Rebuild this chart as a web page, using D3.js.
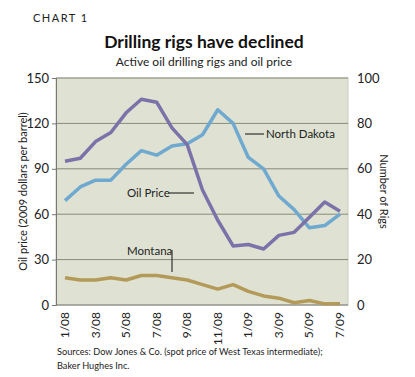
<!DOCTYPE html>
<html>
<head>
<meta charset="utf-8">
<script src="https://cdn.jsdelivr.net/npm/d3@7"></script>
<style>
  body { margin: 0; background: #fff; }
  svg { font-family: Lato, "Open Sans", sans-serif; }
</style>
</head>
<body>
<svg id="chart" width="415" height="377"></svg>
<script>
// months 1/08 .. 7/09
const months = ['1/08', '2/08', '3/08', '4/08', '5/08', '6/08', '7/08', '8/08', '9/08', '10/08',
  '11/08', '12/08', '1/09', '2/09', '3/09', '4/09', '5/09', '6/09', '7/09']
const tickMonths = ['1/08', '3/08', '5/08', '7/08', '9/08', '11/08', '1/09', '3/09', '5/09', '7/09']

// oil price, 2009 dollars per barrel (left axis)
const oilPrice = [95, 97, 108, 114, 127, 136, 134, 117, 106, 76, 56, 39, 40, 37, 46, 48, 58, 68, 62]
// number of rigs (right axis)
const northDakota = [46, 52, 55, 55, 62, 68, 66, 70, 71, 75, 86, 80, 65, 60, 48, 42, 34, 35, 40]
const montana = [12, 11, 11, 12, 11, 13, 13, 12, 11, 9, 7, 9, 6, 4, 3, 1, 2, 0.5, 0.5]

const leftTicks = [0, 30, 60, 90, 120, 150]
const rightTicks = [0, 20, 40, 60, 80, 100]

const margin = { top: 78, right: 67, bottom: 72, left: 56 }
const width = 415 - margin.left - margin.right
const height = 377 - margin.top - margin.bottom

const svg = d3.select('#chart')

// titles
svg.append('text')
  .attr('x', 33).attr('y', 22)
  .attr('font-size', 11).attr('letter-spacing', 1.5).attr('fill', '#222')
  .text('CHART 1')
svg.append('text')
  .attr('x', 204).attr('y', 48).attr('text-anchor', 'middle')
  .attr('font-size', 17.5).attr('font-weight', 'bold').attr('fill', '#111')
  .text('Drilling rigs have declined')
svg.append('text')
  .attr('x', 204).attr('y', 66).attr('text-anchor', 'middle')
  .attr('font-size', 12).attr('fill', '#222')
  .text('Active oil drilling rigs and oil price')

const g = svg.append('g')
  .attr('transform', `translate(${margin.left}, ${margin.top})`)

const xScale = d3.scalePoint()
  .domain(months)
  .range([9, width - 8])

const yLeft = d3.scaleLinear().domain([0, 150]).range([height, 0])
const yRight = d3.scaleLinear().domain([0, 100]).range([height, 0])

// plot background
g.append('rect')
  .attr('width', width).attr('height', height)
  .attr('fill', '#dfe2d2')
  .attr('stroke', '#c9ccbe').attr('stroke-width', 1)

// gridlines
g.selectAll('.grid')
  .data(leftTicks.slice(1))
  .enter().append('line')
  .attr('class', 'grid')
  .attr('x1', 0).attr('x2', width)
  .attr('y1', d => yLeft(d)).attr('y2', d => yLeft(d))
  .attr('stroke', '#868b7a').attr('stroke-width', 1)

// left axis
const leftAxis = d3.axisLeft(yLeft).tickValues(leftTicks).tickSize(4).tickPadding(3)
const la = g.append('g').call(leftAxis)
la.select('.domain').attr('stroke', '#777')
la.selectAll('.tick line').attr('stroke', '#777')
la.selectAll('text').attr('font-size', 13).attr('fill', '#222').attr('font-family', 'Lato, sans-serif')

// right axis labels
const rightAxis = d3.axisRight(yRight).tickValues(rightTicks).tickSize(0).tickPadding(9)
const ra = g.append('g').attr('transform', `translate(${width}, 0)`).call(rightAxis)
ra.select('.domain').remove()
ra.selectAll('text').attr('font-size', 13).attr('fill', '#222').attr('font-family', 'Lato, sans-serif')

// bottom axis
g.append('line')
  .attr('x1', 0).attr('x2', width)
  .attr('y1', height).attr('y2', height)
  .attr('stroke', '#777')

g.selectAll('.xlabel')
  .data(tickMonths)
  .enter().append('text')
  .attr('class', 'xlabel')
  .attr('transform', d => `translate(${xScale(d) + 4}, ${height + 7}) rotate(-90)`)
  .attr('text-anchor', 'end')
  .attr('font-size', 12).attr('fill', '#222')
  .text(d => d)

// axis titles
svg.append('text')
  .attr('transform', `translate(27, ${margin.top + height / 2}) rotate(-90)`)
  .attr('text-anchor', 'middle')
  .attr('font-size', 11).attr('fill', '#222')
  .text('Oil price (2009 dollars per barrel)')
svg.append('text')
  .attr('transform', `translate(380, ${margin.top + height / 2}) rotate(90)`)
  .attr('text-anchor', 'middle')
  .attr('font-size', 11).attr('fill', '#222')
  .text('Number of Rigs')

// lines
const lineLeft = d3.line()
  .x((d, i) => xScale(months[i]))
  .y(d => yLeft(d))
const lineRight = d3.line()
  .x((d, i) => xScale(months[i]))
  .y(d => yRight(d))

g.append('path').datum(montana)
  .attr('d', lineRight)
  .attr('fill', 'none').attr('stroke', '#b49a58').attr('stroke-width', 3.5)
  .attr('stroke-linejoin', 'round')

g.append('path').datum(northDakota)
  .attr('d', lineRight)
  .attr('fill', 'none').attr('stroke', '#6fa9cf').attr('stroke-width', 3.5)
  .attr('stroke-linejoin', 'round')

g.append('path').datum(oilPrice)
  .attr('d', lineLeft)
  .attr('fill', 'none').attr('stroke', '#7a72a8').attr('stroke-width', 3.5)
  .attr('stroke-linejoin', 'round')

// series labels
svg.append('text')
  .attr('x', 127).attr('y', 197)
  .attr('font-size', 11.5).attr('fill', '#222')
  .text('Oil Price')
svg.append('line')
  .attr('x1', 168).attr('x2', 194).attr('y1', 193).attr('y2', 193)
  .attr('stroke', '#333').attr('stroke-width', 1.2)

svg.append('text')
  .attr('x', 266).attr('y', 138)
  .attr('font-size', 11.5).attr('fill', '#222')
  .text('North Dakota')
svg.append('line')
  .attr('x1', 245).attr('x2', 264).attr('y1', 134).attr('y2', 134)
  .attr('stroke', '#333').attr('stroke-width', 1.2)

svg.append('text')
  .attr('x', 127).attr('y', 255)
  .attr('font-size', 11.5).attr('fill', '#222')
  .text('Montana')
svg.append('line')
  .attr('x1', 172).attr('x2', 172).attr('y1', 250).attr('y2', 272)
  .attr('stroke', '#333').attr('stroke-width', 1.2)

// sources
svg.append('text')
  .attr('x', 57).attr('y', 355)
  .attr('font-size', 9.2).attr('fill', '#222')
  .text('Sources: Dow Jones & Co. (spot price of West Texas intermediate);')
svg.append('text')
  .attr('x', 57).attr('y', 369)
  .attr('font-size', 9.2).attr('fill', '#222')
  .text('Baker Hughes Inc.')
</script>
</body>
</html>
